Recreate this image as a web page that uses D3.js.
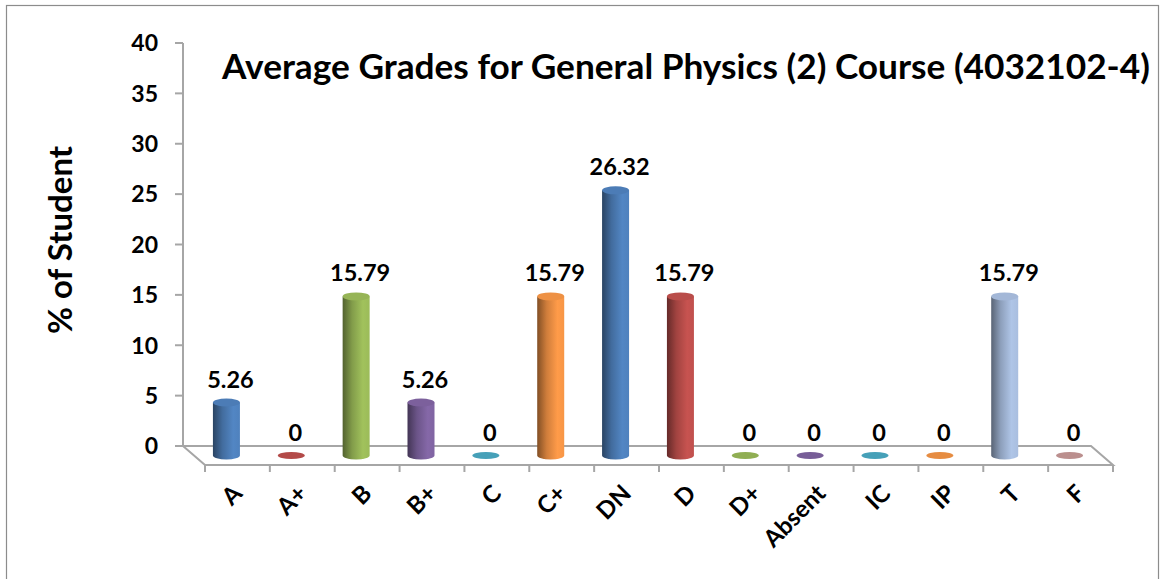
<!DOCTYPE html>
<html>
<head>
<meta charset="utf-8">
<script src="https://cdn.jsdelivr.net/npm/d3@7"></script>
<style>
  body { margin: 0; background: #fff; }
  text { font-family: Lato, "Open Sans", sans-serif; font-weight: bold; fill: #000; }
</style>
</head>
<body>
<svg id="chart"></svg>
<script>
const W = 1170, H = 579;

// data
const grades = ["A", "A+", "B", "B+", "C", "C+", "DN", "D", "D+", "Absent", "IC", "IP", "T", "F"];
const percent = [5.26, 0, 15.79, 5.26, 0, 15.79, 26.32, 15.79, 0, 0, 0, 0, 15.79, 0];
const barColors = ["#4F81BD", "#C0504D", "#9BBB59", "#8064A2", "#4BACC6", "#F79646",
                   "#4F81BD", "#C0504D", "#9BBB59", "#8064A2", "#4BACC6", "#F79646",
                   "#A9BEDF", "#C99A98"];
const yTicks = [0, 5, 10, 15, 20, 25, 30, 35, 40];

const svg = d3.select("#chart").attr("width", W).attr("height", H);

// chart frame
svg.append("rect")
  .attr("x", 6.5).attr("y", 5.5).attr("width", 1152).attr("height", 600)
  .attr("fill", "none").attr("stroke", "#8c8c8c").attr("stroke-width", 1.2);

// depth of the 3D floor
const dx = 22, dy = 19;

const x = d3.scaleBand().domain(grades).range([183, 1091]);
const y = d3.scaleLinear().domain([0, 40]).range([446, 43]);

const axisColor = "#a6a6a6";

// y axis
const yAxis = svg.append("g");
yAxis.append("line")
  .attr("x1", 183).attr("x2", 183).attr("y1", y(40)).attr("y2", y(0))
  .attr("stroke", axisColor).attr("stroke-width", 2);
yAxis.selectAll(".tick").data(yTicks).enter().append("line")
  .attr("x1", 175).attr("x2", 183).attr("y1", d => y(d)).attr("y2", d => y(d))
  .attr("stroke", axisColor).attr("stroke-width", 2);
yAxis.selectAll(".tl").data(yTicks).enter().append("text")
  .attr("x", 158).attr("y", d => y(d)).attr("dy", "0.36em")
  .attr("text-anchor", "end").attr("font-size", 23)
  .text(d => d);

// floor
const x0 = x.range()[0], x1 = x.range()[1];
svg.append("path")
  .attr("d", `M${x0},${y(0)} L${x1},${y(0)} L${x1 + dx},${y(0) + dy} L${x0 + dx},${y(0) + dy} Z`)
  .attr("fill", "none").attr("stroke", axisColor).attr("stroke-width", 2);

// x ticks on the front edge
const tickPos = grades.map(g => x(g)).concat([x1]);
svg.selectAll(".xt").data(tickPos).enter().append("line")
  .attr("x1", d => d + dx).attr("x2", d => d + dx)
  .attr("y1", y(0) + dy).attr("y2", y(0) + dy + 7)
  .attr("stroke", axisColor).attr("stroke-width", 2);

// gradients for cylinders
const defs = svg.append("defs");
barColors.forEach((c, i) => {
  const g = defs.append("linearGradient").attr("id", "cyl" + i)
    .attr("x1", "0%").attr("x2", "100%").attr("y1", "0%").attr("y2", "0%");
  const base = d3.color(c);
  g.append("stop").attr("offset", "0%").attr("stop-color", base.darker(1.8));
  g.append("stop").attr("offset", "35%").attr("stop-color", base.darker(0.5));
  g.append("stop").attr("offset", "75%").attr("stop-color", base.brighter(0.1));
  g.append("stop").attr("offset", "100%").attr("stop-color", base);
});

const bw = 27, ry = 4;
const cx = g => x(g) + x.bandwidth() / 2 + dx / 2;
const yb = v => y(v) + dy / 2;

const bars = svg.append("g").selectAll("g").data(grades).enter().append("g");

bars.each(function (g, i) {
  const sel = d3.select(this);
  const v = percent[i];
  const c = cx(g);
  if (v > 0) {
    sel.append("path")
      .attr("d", `M${c - bw / 2},${yb(v)} L${c - bw / 2},${yb(0)} A${bw / 2},${ry} 0 0 0 ${c + bw / 2},${yb(0)} L${c + bw / 2},${yb(v)} Z`)
      .attr("fill", `url(#cyl${i})`);
    sel.append("ellipse")
      .attr("cx", c).attr("cy", yb(v)).attr("rx", bw / 2).attr("ry", ry)
      .attr("fill", d3.color(barColors[i]).darker(0.1));
  } else {
    sel.append("ellipse")
      .attr("cx", c).attr("cy", yb(0)).attr("rx", bw / 2).attr("ry", ry - 0.5)
      .attr("fill", d3.color(barColors[i]).darker(0.2));
  }
  sel.append("text")
    .attr("x", c + 4).attr("y", yb(v) - 15)
    .attr("text-anchor", "middle").attr("font-size", 23.5)
    .text(v);
});

// category labels, rotated
svg.selectAll(".xl").data(grades).enter().append("text")
  .attr("text-anchor", "end").attr("font-size", 24)
  .attr("transform", g => `translate(${x(g) + x.bandwidth() / 2 + dx + 6},${y(0) + dy + 30}) rotate(-45)`)
  .text(g => g);

// y axis title
svg.append("text")
  .attr("transform", "translate(72,240) rotate(-90)")
  .attr("text-anchor", "middle").attr("font-size", 33)
  .text("% of Student");

// chart title
const title = svg.append("text")
  .attr("x", 686).attr("y", 79)
  .attr("text-anchor", "middle").attr("font-size", 30)
  .text("Average Grades for General Physics (2) Course (4032102-4)");
const tw = title.node().getComputedTextLength();
title.attr("font-size", 30 * 928 / tw);
</script>
</body>
</html>
